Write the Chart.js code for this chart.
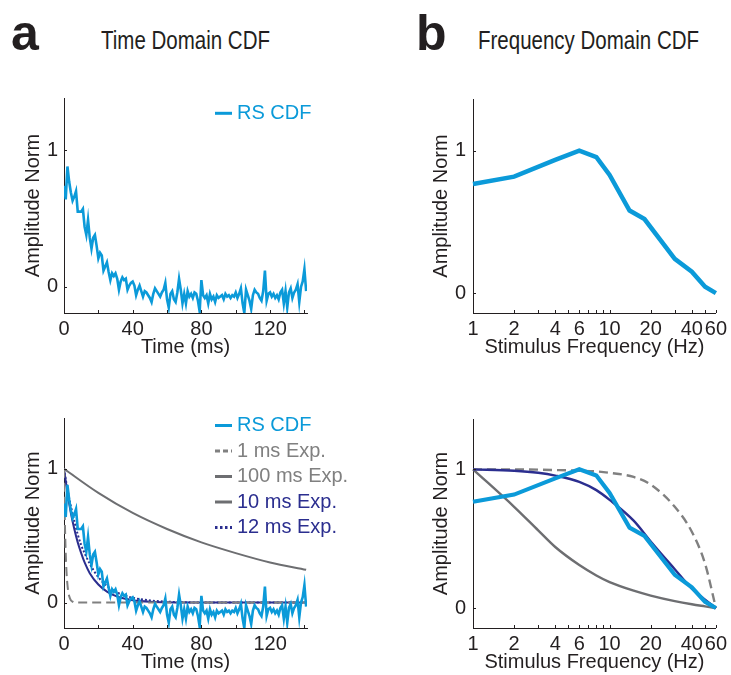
<!DOCTYPE html>
<html><head><meta charset="utf-8">
<script src="https://cdn.jsdelivr.net/npm/chart.js@4.4.1/dist/chart.umd.min.js"></script>
<style>
html,body{margin:0;padding:0;background:#fff;}
body{width:731px;height:675px;position:relative;overflow:hidden;font-family:"Liberation Sans",Arial,sans-serif;color:#231f20;}
canvas{position:absolute;}
.lab{position:absolute;font-weight:bold;font-size:50px;line-height:50px;}
.hdr{position:absolute;font-size:25px;line-height:25px;white-space:nowrap;transform:scaleX(0.82);transform-origin:0 0;}
</style></head><body>
<div class="lab" style="left:11px;top:8px">a</div>
<div class="hdr" style="left:101px;top:28px">Time Domain CDF</div>
<div class="lab" style="left:416px;top:8px">b</div>
<div class="hdr" style="left:478px;top:28px">Frequency Domain CDF</div>
<canvas id="c1" width="320" height="279" style="left:0;top:80px"></canvas>
<canvas id="c2" width="360" height="274" style="left:0;top:400px"></canvas>
<canvas id="c3" width="331" height="279" style="left:400px;top:80px"></canvas>
<canvas id="c4" width="331" height="274" style="left:400px;top:400px"></canvas>
<script>
// ---------- DATA ----------
// RS CDF in time domain, 1 ms sampling, t = 0..141 ms
const rsTimeValues = [
 0.74,0.64,0.88,0.77,0.69,0.63,0.66,0.70,0.55,0.55,
 0.55,0.57,0.44,0.38,0.49,0.36,0.28,0.36,0.38,0.30,
 0.21,0.25,0.23,0.12,0.15,0.18,0.11,0.05,0.10,0.08,
 0.10,0.06,-0.02,0.04,0.07,0.05,0.06,-0.02,0.01,0.03,
 0.04,0.01,-0.06,-0.02,0.01,-0.03,-0.07,-0.03,-0.04,-0.06,
 -0.08,-0.11,-0.05,-0.01,-0.03,-0.05,-0.07,-0.04,-0.02,0.03,
 -0.09,-0.15,-0.05,-0.03,-0.09,-0.11,-0.04,0.06,-0.02,-0.12,
 -0.05,-0.12,-0.03,-0.07,-0.05,-0.08,-0.04,-0.05,-0.10,-0.18,
 0.05,-0.06,-0.08,-0.06,-0.12,-0.05,-0.09,-0.07,-0.11,-0.06,
 -0.08,-0.07,-0.06,-0.09,-0.05,-0.07,-0.06,-0.08,-0.06,-0.07,
 -0.04,-0.08,-0.05,-0.01,-0.12,-0.19,-0.02,-0.06,-0.10,-0.16,
 -0.06,-0.02,-0.04,-0.05,-0.08,-0.10,-0.03,0.12,-0.10,-0.05,
 -0.04,-0.07,-0.05,-0.08,-0.06,-0.09,-0.04,-0.02,-0.12,-0.03,
 -0.15,-0.04,-0.01,-0.08,-0.04,-0.02,0.02,-0.11,0.00,0.04,
 0.13,-0.03
];
// Exponential models in time domain (ms, amplitude)
const exp1Times   = [0,0.5,1,1.5,2,2.5,3,4,5,6,141];
const exp1Values  = [1,0.61,0.37,0.22,0.135,0.08,0.05,0.018,0.007,0,0];
const exp100Times = [0,20,40,60,80,100,120,141];
const exp100Values= [1,0.82,0.67,0.55,0.45,0.37,0.30,0.245];
const exp10Times  = [0,2,4,6,8,10,12,15,20,25,30,35,40,50,60,80,100,141];
const exp10Values = [1,0.82,0.67,0.55,0.45,0.37,0.30,0.22,0.135,0.082,0.05,0.03,0.018,0.007,0.0025,0,0,0];
const exp12Times  = [0,2,4,6,8,10,12,15,20,25,30,35,40,50,60,70,80,141];
const exp12Values = [1,0.85,0.72,0.61,0.51,0.43,0.37,0.29,0.19,0.125,0.08,0.055,0.036,0.016,0.007,0.003,0,0];
// Frequency domain
const rsFreqHz     = [1,2,4,6,8,10,14,18,30,40,50,60];
const rsFreqValues = [0.766,0.818,0.935,1.0,0.955,0.83,0.58,0.52,0.24,0.15,0.045,0.0];
const modelFreqHz  = [1,2,3,4,6,8,10,15,20,30,40,50,60];
const freq10Values = [1,0.99,0.975,0.955,0.91,0.85,0.78,0.63,0.48,0.28,0.14,0.06,0];
const freq100Values= [1,0.73,0.56,0.44,0.31,0.235,0.187,0.125,0.09,0.05,0.027,0.012,0];
const freq1Values  = [1,1.0,0.998,0.995,0.99,0.985,0.975,0.945,0.89,0.73,0.55,0.32,0];
// Ticks
const timeTickValues  = [0,20,40,60,80,100,120,140];
const timeTickLabels  = [0,40,80,120];
const freqTickValues  = [1,2,3,4,5,6,7,8,9,10,20,30,40,50,60];
const freqTickLabels  = [1,2,4,6,10,20,40,60];
const ampTickValues   = [0,1];

// ---------- STYLE ----------
const AX = '#231f20';
const BLUE = '#0b9ad9';
const NAVY = '#2b2e8f';
const GRAY = '#6d6e71';
const DGRAY = '#808080';
const FAMILY = '"Liberation Sans", Arial, sans-serif';
Chart.defaults.font.family = FAMILY;
Chart.defaults.font.size = 20;
Chart.defaults.color = AX;

const pts = (xs, ys) => xs.map((x, i) => ({x, y: ys[i]}));
const rsTimePts = rsTimeValues.map((v, i) => ({x: i, y: v}));

const inTicks = {
  id: 'inTicks',
  afterDatasetsDraw(chart) {
    const ctx = chart.ctx, xs = chart.scales.x, ys = chart.scales.y, L = 3;
    ctx.save(); ctx.strokeStyle = AX; ctx.lineWidth = 1;
    xs.ticks.forEach(t => { const px = Math.round(xs.getPixelForValue(t.value)) + 0.5;
      ctx.beginPath(); ctx.moveTo(px, ys.bottom); ctx.lineTo(px, ys.bottom - L); ctx.stroke(); });
    ys.ticks.forEach(t => { const py = Math.round(ys.getPixelForValue(t.value)) + 0.5;
      ctx.beginPath(); ctx.moveTo(xs.left, py); ctx.lineTo(xs.left + L, py); ctx.stroke(); });
    ctx.restore();
  }
};
// legend built from the datasets (label, line colour/dash, text colour)
const lineLegend = {
  id: 'lineLegend',
  afterDraw(chart, args, o) {
    if (!o || !o.show) return;
    const ctx = chart.ctx;
    ctx.save();
    ctx.font = '20px ' + FAMILY; ctx.textBaseline = 'middle'; ctx.textAlign = 'left';
    chart.data.datasets.forEach((ds, i) => {
      const y = o.y + i * o.spacing;
      ctx.strokeStyle = ds.legendLine || ds.borderColor; ctx.lineWidth = 3;
      ctx.setLineDash(ds.legendDash || []);
      ctx.beginPath(); ctx.moveTo(o.x, y); ctx.lineTo(o.x + 17, y); ctx.stroke();
      ctx.setLineDash([]);
      ctx.fillStyle = ds.legendText || ds.borderColor;
      ctx.fillText(ds.label, o.x + 22, y);
    });
    ctx.restore();
  }
};

function makeChart(id, cfg) {
  return new Chart(document.getElementById(id), {
    type: 'line',
    data: {datasets: cfg.datasets},
    plugins: [inTicks, lineLegend],
    options: {
      responsive: false, animation: false, devicePixelRatio: 1,
      layout: {padding: {left: 0, top: cfg.padTop, right: cfg.padRight, bottom: 0}},
      elements: {point: {radius: 0}},
      scales: {
        x: {
          type: cfg.xType, min: cfg.xMin, max: cfg.xMax,
          grid: {display: true, drawOnChartArea: false, drawTicks: false},
          border: {display: true, color: AX, width: 1},
          afterBuildTicks: s => { s.ticks = cfg.xTicks.map(v => ({value: v})); },
          ticks: {autoSkip: false, maxRotation: 0, minRotation: 0, padding: 4, color: AX,
            callback: v => cfg.xLabels.includes(v) ? String(v) : ''},
          title: {display: true, text: cfg.xTitle, color: AX, padding: {top: 0, bottom: 0}},
          afterFit: s => { s.height = 46; }
        },
        y: {
          type: 'linear', min: cfg.yMin, max: cfg.yMax,
          grid: {display: true, drawOnChartArea: false, drawTicks: false},
          border: {display: true, color: AX, width: 1},
          afterBuildTicks: s => { s.ticks = ampTickValues.map(v => ({value: v})); },
          ticks: {padding: cfg.yTickPad, color: AX, callback: v => String(v)},
          title: {display: true, text: 'Amplitude Norm', color: AX, padding: {top: cfg.yTitlePad, bottom: 0}},
          afterFit: s => { s.width = cfg.yWidth; }
        }
      },
      plugins: {
        tooltip: {enabled: false},
        legend: {display: false},
        lineLegend: cfg.legend ? {show: true, x: cfg.legend.x, y: cfg.legend.y, spacing: 25.5} : {show: false}
      }
    }
  });
}

const rsTime = () => ({label: 'RS CDF', data: rsTimePts, borderColor: BLUE, borderWidth: 2.6, tension: 0, legendText: BLUE});

// Panel a, top
makeChart('c1', {
  xType: 'linear', xMin: 0, xMax: 141.5, xTicks: timeTickValues, xLabels: timeTickLabels, xTitle: 'Time (ms)',
  yMin: -0.19, yMax: 1.38, yWidth: 64, yTitlePad: 21, yTickPad: 6, padTop: 14, padRight: 13,
  legend: {x: 215, y: 33.3},
  datasets: [rsTime()]
});
// Panel a, bottom (canvas wider so the legend text can run past the axes)
makeChart('c2', {
  xType: 'linear', xMin: 0, xMax: 141.5, xTicks: timeTickValues, xLabels: timeTickLabels, xTitle: 'Time (ms)',
  yMin: -0.19, yMax: 1.38, yWidth: 64, yTitlePad: 21, yTickPad: 6, padTop: 8, padRight: 53,
  legend: {x: 215, y: 25.5},
  datasets: [
    rsTime(),
    {label: '1 ms Exp.', data: pts(exp1Times, exp1Values), borderColor: DGRAY, borderWidth: 2, borderDash: [9, 5], legendDash: [5, 3], cubicInterpolationMode: 'monotone', legendText: DGRAY},
    {label: '100 ms Exp.', data: pts(exp100Times, exp100Values), borderColor: GRAY, borderWidth: 2, cubicInterpolationMode: 'monotone', legendText: DGRAY},
    {label: '10 ms Exp.', data: pts(exp10Times, exp10Values), borderColor: NAVY, borderWidth: 2, cubicInterpolationMode: 'monotone', legendLine: GRAY, legendText: NAVY},
    {label: '12 ms Exp.', data: pts(exp12Times, exp12Values), borderColor: NAVY, borderWidth: 2, borderDash: [2, 2], legendDash: [2.5, 2.5], cubicInterpolationMode: 'monotone', legendText: NAVY}
  ]
});
// Panel b, top
makeChart('c3', {
  xType: 'logarithmic', xMin: 1, xMax: 60, xTicks: freqTickValues, xLabels: freqTickLabels, xTitle: 'Stimulus Frequency (Hz)',
  yMin: -0.14, yMax: 1.363, yWidth: 73, yTitlePad: 29.7, yTickPad: 7, padTop: 14, padRight: 14.5,
  datasets: [
    {label: 'RS CDF', data: pts(rsFreqHz, rsFreqValues), borderColor: BLUE, borderWidth: 4.5, tension: 0, clip: 6}
  ]
});
// Panel b, bottom
makeChart('c4', {
  xType: 'logarithmic', xMin: 1, xMax: 60, xTicks: freqTickValues, xLabels: freqTickLabels, xTitle: 'Stimulus Frequency (Hz)',
  yMin: -0.144, yMax: 1.363, yWidth: 73, yTitlePad: 29.7, yTickPad: 7, padTop: 8, padRight: 14.5,
  datasets: [
    {label: 'RS CDF', data: pts(rsFreqHz, rsFreqValues), borderColor: BLUE, borderWidth: 4.2, tension: 0, clip: 6},
    {label: '10 ms Exp.', data: pts(modelFreqHz, freq10Values), borderColor: NAVY, borderWidth: 2.4, cubicInterpolationMode: 'monotone', clip: 6},
    {label: '100 ms Exp.', data: pts(modelFreqHz, freq100Values), borderColor: GRAY, borderWidth: 2.4, cubicInterpolationMode: 'monotone', clip: 6},
    {label: '1 ms Exp.', data: pts(modelFreqHz, freq1Values), borderColor: DGRAY, borderWidth: 2.4, borderDash: [9, 5], cubicInterpolationMode: 'monotone', clip: 6}
  ]
});
</script>
</body></html>
